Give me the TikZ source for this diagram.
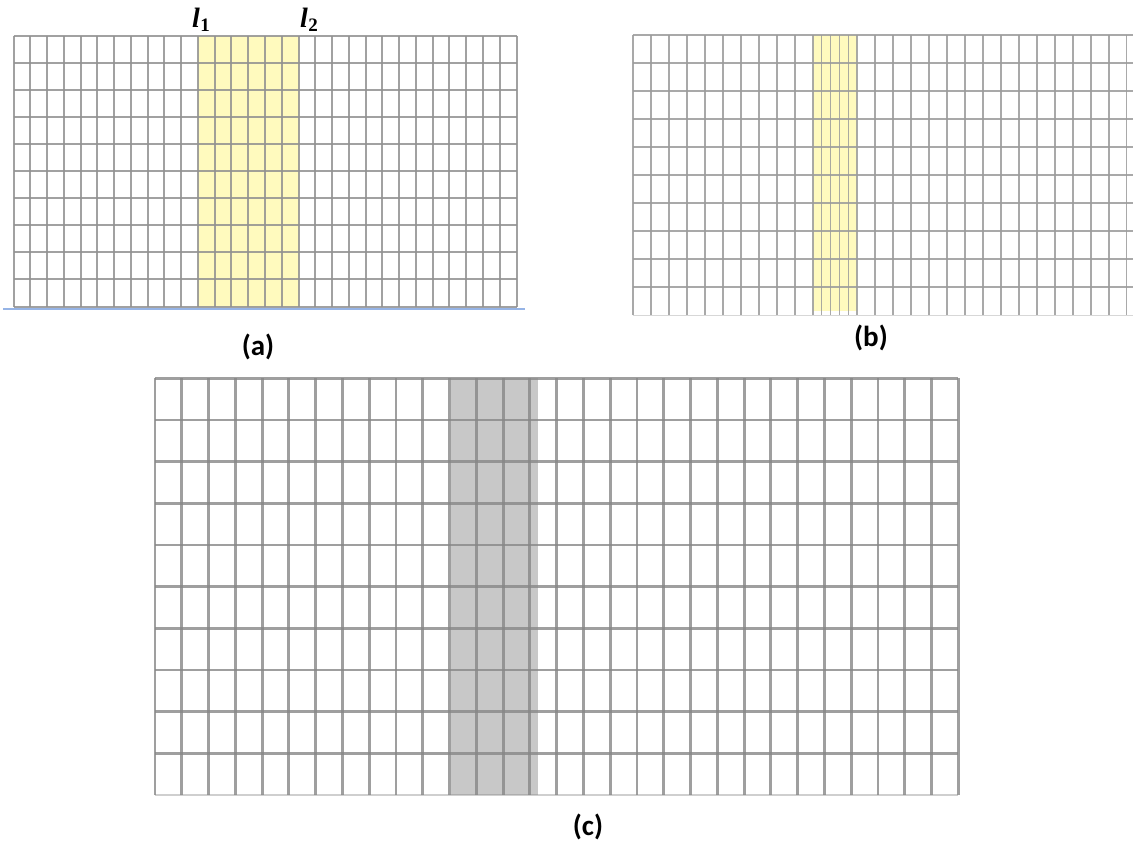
\documentclass[tikz,border=0pt]{standalone}
\usepackage{fontspec}
\newfontfamily\labfont{Carlito}[BoldFont={Carlito Bold}]
\newfontfamily\lfont{Liberation Serif}
\definecolor{gridA}{RGB}{145,145,145}
\definecolor{gridB}{RGB}{155,155,155}
\definecolor{gridC}{RGB}{135,135,135}
\definecolor{yellowA}{RGB}{255,250,190}
\definecolor{shadeC}{RGB}{200,200,200}
\definecolor{baseblue}{RGB}{150,180,230}
\newcommand{\lsym}[1]{{\lfont\bfseries\itshape\fontsize{28}{32}\selectfont l}\kern0.5pt\raisebox{-4pt}{\lfont\bfseries\fontsize{19}{22}\selectfont #1}}
\tikzset{
  lab/.style={font=\labfont\bfseries\fontsize{29}{33}\selectfont, inner sep=0pt},
  llab/.style={inner sep=0pt, anchor=base},
  lineA/.style={draw=gridA, line width=2pt, draw opacity=0.85},
  lineB/.style={draw=gridB, line width=1.8pt, draw opacity=0.85},
  lineC/.style={draw=gridC, line width=2.8pt, draw opacity=0.8},
}
\begin{document}
\begin{tikzpicture}[x=1pt,y=-1pt]
\useasboundingbox (0,0) rectangle (1133,845);
\fill[white] (0,0) rectangle (1133,845);

% ---------------- (a) ----------------
\fill[yellowA] (197.9,36.5) rectangle (298.5,306.5);
\foreach \i in {0,...,30}
  \draw[lineA] ({13.5+\i*16.767},36.5) -- ({13.5+\i*16.767},306.5);
\foreach \k in {0,...,10}
  \draw[lineA] (13.5,{36.5+\k*27}) -- (516.5,{36.5+\k*27});
\draw[baseblue, line width=1.2pt] (3,309) -- (525,309);
\node[llab] (l1) at (201,28) {\lsym{1}};
\node[llab] (l2) at (309,28) {\lsym{2}};
\node[lab] (la) at (258,347) {(a)};

% ---------------- (b) ----------------
\fill[yellowA] (812.7,35) rectangle (857.3,311);
\foreach \i in {0,...,10}
  \draw[lineB] ({632.7+\i*18},35) -- ({632.7+\i*18},315);
\foreach \i in {1,...,4}
  \draw[lineB, line width=1.4pt] ({812.7+\i*8.92},35) -- ({812.7+\i*8.92},315);
\foreach \j in {0,...,15}
  \draw[lineB] ({857.3+\j*17.95},35) -- ({857.3+\j*17.95},315);
\foreach \k in {0,...,9}
  \draw[lineB] (632.7,{35+\k*28}) -- (1133,{35+\k*28});
\draw[gridB, line width=1pt, draw opacity=0.4] (632.7,315) -- (1133,315);
\node[lab] (lb) at (871,338) {(b)};

% ---------------- (c) ----------------
\fill[shadeC] (450.5,378.3) rectangle (538,795);
\foreach \i in {0,...,30}
  \draw[lineC] ({155+\i*26.777},378.3) -- ({155+\i*26.777},795);
\foreach \k in {0,...,9}
  \draw[lineC] (155,{378.3+\k*41.67}) -- (958.3,{378.3+\k*41.67});
\draw[gridC, line width=1.2pt, draw opacity=0.4] (155,795) -- (958.3,795);
\node[lab] (lc) at (588,827) {(c)};
\end{tikzpicture}
\end{document}
